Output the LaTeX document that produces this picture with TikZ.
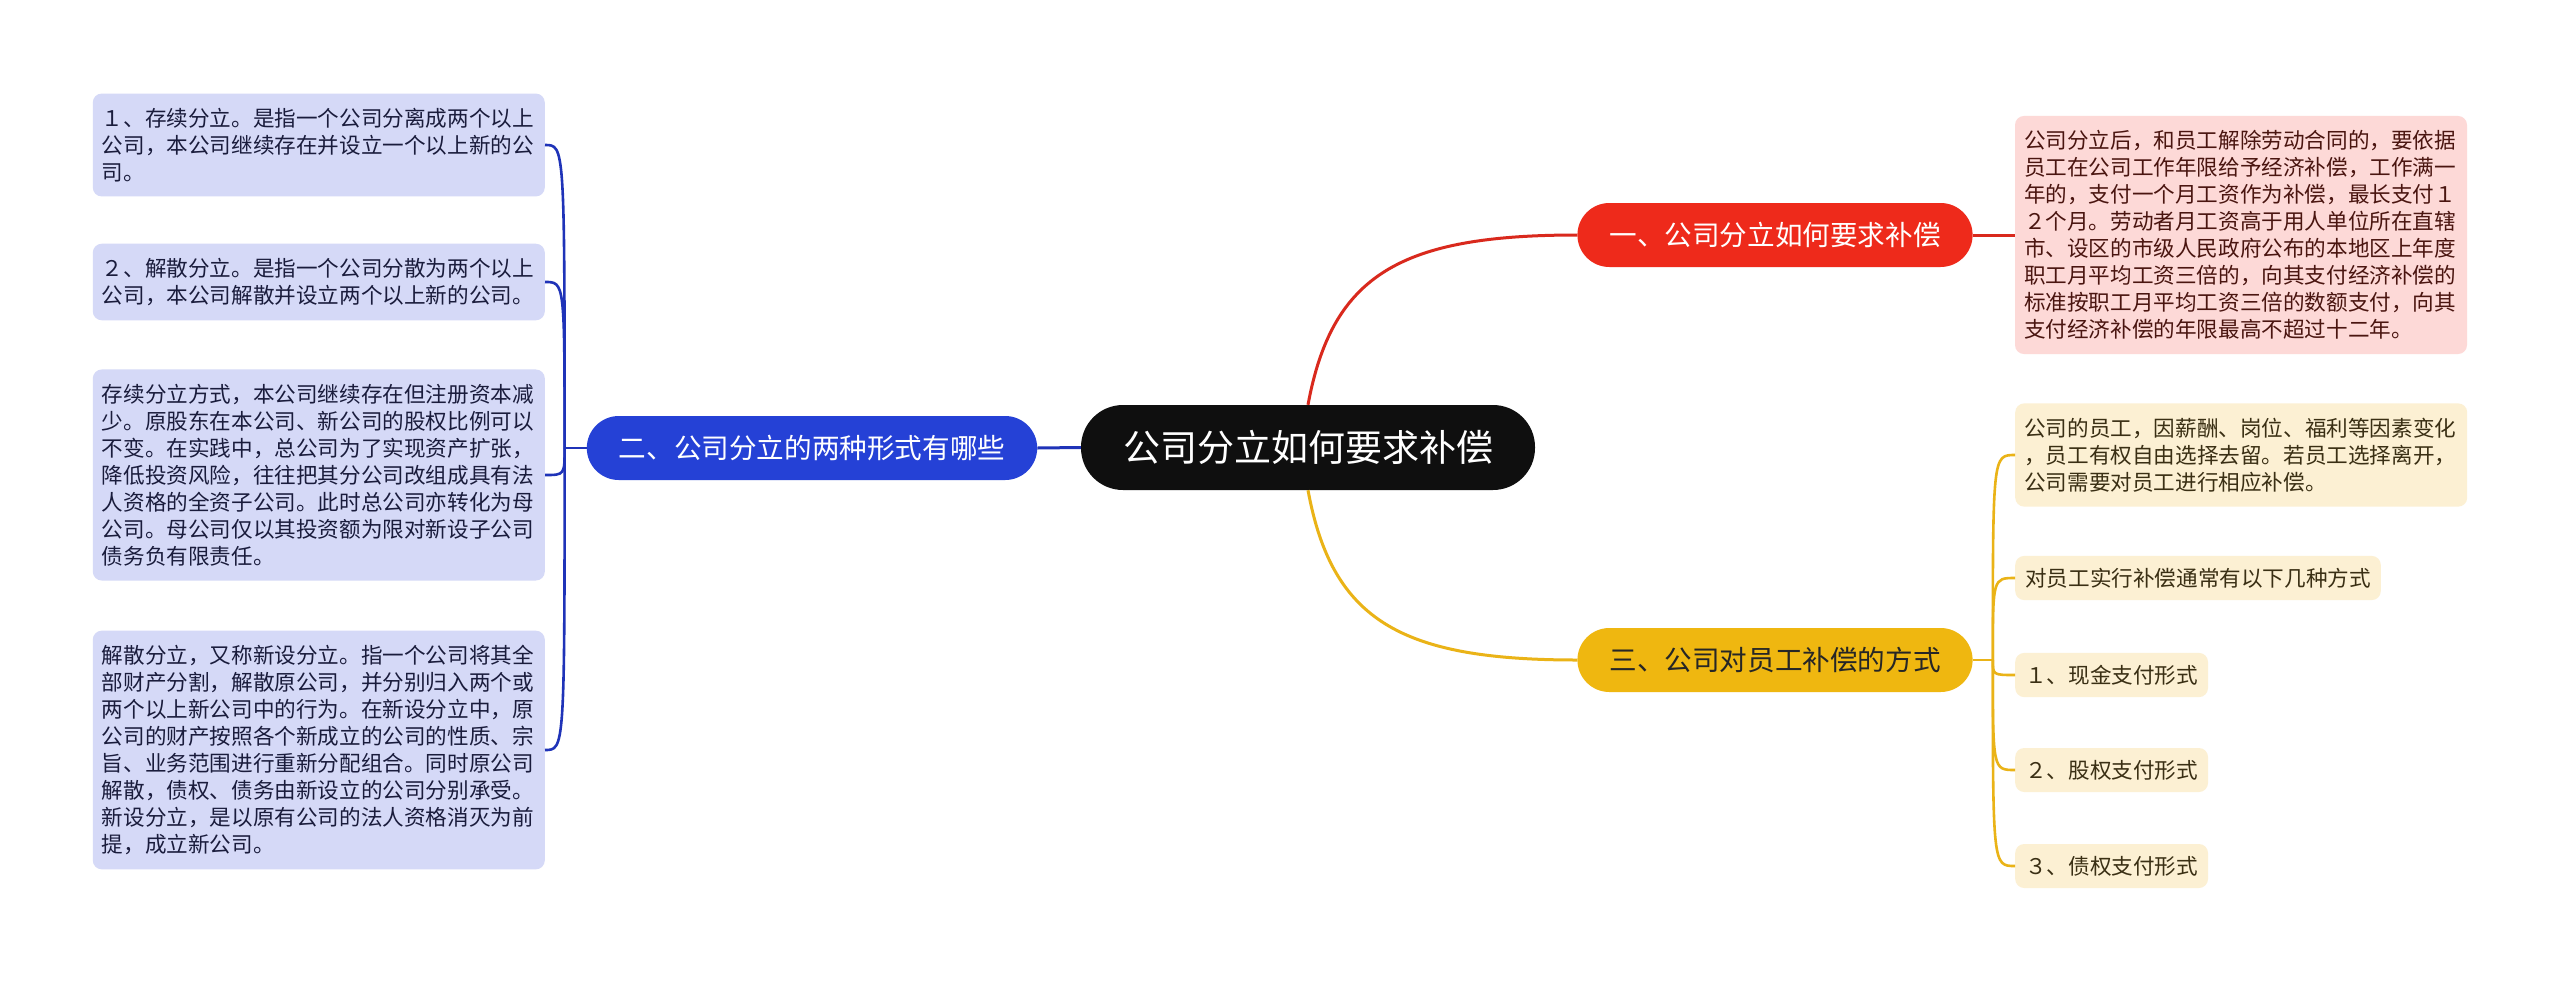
\documentclass[tikz,border=0pt]{standalone}
\usepackage{fontspec}
\setmainfont{Noto Sans CJK SC}
\usetikzlibrary{positioning}

\definecolor{rootbg}{HTML}{0F0F0F}
\definecolor{redbr}{HTML}{EE2A1B}
\definecolor{redln}{HTML}{D9291D}
\definecolor{redlf}{HTML}{FDD9D7}
\definecolor{redtx}{HTML}{4A1510}
\definecolor{bluebr}{HTML}{2541D6}
\definecolor{blueln}{HTML}{1F33B8}
\definecolor{bluelf}{HTML}{D5D9F7}
\definecolor{bluetx}{HTML}{1A1C3C}
\definecolor{yelbr}{HTML}{EFB710}
\definecolor{yelln}{HTML}{EAB317}
\definecolor{yellf}{HTML}{FCF0D3}
\definecolor{yeltx}{HTML}{3A2F14}

\begin{document}
\begin{tikzpicture}[
  x=1pt, y=-1pt,
  root/.style={fill=rootbg, text=white, rounded corners=42pt, minimum width=454pt,
               minimum height=85pt, font=\fontsize{37}{44}\selectfont},
  branch/.style={rounded corners=32pt, minimum height=64pt, inner xsep=32pt,
                 font=\fontsize{27.6}{33}\selectfont},
  leaf/.style={rounded corners=9pt, inner xsep=10pt, inner ysep=12pt,
               font=\fontsize{21.6}{27}\selectfont},
  para/.style={leaf, text width=434pt, align=left, inner xsep=9pt, inner ysep=14.5pt},
  redleaf/.style={fill=redlf, text=redtx},
  blueleaf/.style={fill=bluelf, text=bluetx},
  yelleaf/.style={fill=yellf, text=yeltx},
  rlink/.style={draw=redln, line width=3pt},
  blink/.style={draw=blueln, line width=2.6pt},
  ylink/.style={draw=yelln, line width=2.6pt},
]
\fill[white] (0,0) rectangle (2560,983);
\useasboundingbox (0,0) rectangle (2560,983);
% ---- root and branches ----
\node[root] (root) at (1308,447.5) {公司分立如何要求补偿};
\node[branch, fill=redbr, text=white] (b1) at (1775,235) {一、公司分立如何要求补偿};
\node[branch, fill=bluebr, text=white] (b2) at (812,448) {二、公司分立的两种形式有哪些};
\node[branch, fill=yelbr, text=black!85] (b3) at (1775,660) {三、公司对员工补偿的方式};
% ---- red leaf ----
\node[para, redleaf, right=42pt of b1] (r1) {公司分立后，和员工解除劳动合同的，要依据\\员工在公司工作年限给予经济补偿，工作满一\\年的，支付一个月工资作为补偿，最长支付１\\２个月。劳动者月工资高于用人单位所在直辖\\市、设区的市级人民政府公布的本地区上年度\\职工月平均工资三倍的，向其支付经济补偿的\\标准按职工月平均工资三倍的数额支付，向其\\支付经济补偿的年限最高不超过十二年。};
% ---- blue leaves ----
\node[para, blueleaf, anchor=east] (l1) at (545,145) {１、存续分立。是指一个公司分离成两个以上\\公司，本公司继续存在并设立一个以上新的公\\司。};
\node[para, blueleaf, anchor=east] (l2) at (545,282) {２、解散分立。是指一个公司分散为两个以上\\公司，本公司解散并设立两个以上新的公司。};
\node[para, blueleaf, anchor=east] (l3) at (545,475) {存续分立方式，本公司继续存在但注册资本减\\少。原股东在本公司、新公司的股权比例可以\\不变。在实践中，总公司为了实现资产扩张，\\降低投资风险，往往把其分公司改组成具有法\\人资格的全资子公司。此时总公司亦转化为母\\公司。母公司仅以其投资额为限对新设子公司\\债务负有限责任。};
\node[para, blueleaf, anchor=east] (l4) at (545,750) {解散分立，又称新设分立。指一个公司将其全\\部财产分割，解散原公司，并分别归入两个或\\两个以上新公司中的行为。在新设分立中，原\\公司的财产按照各个新成立的公司的性质、宗\\旨、业务范围进行重新分配组合。同时原公司\\解散，债权、债务由新设立的公司分别承受。\\新设分立，是以原有公司的法人资格消灭为前\\提，成立新公司。};
% ---- yellow leaves ----
\node[para, yelleaf, anchor=west] (y1) at (2015,455) {公司的员工，因薪酬、岗位、福利等因素变化\\，员工有权自由选择去留。若员工选择离开，\\公司需要对员工进行相应补偿。};
\node[leaf, yelleaf, anchor=west] (y2) at (2015,578) {对员工实行补偿通常有以下几种方式};
\node[leaf, yelleaf, anchor=west] (y3) at (2015,675) {１、现金支付形式};
\node[leaf, yelleaf, anchor=west] (y4) at (2015,770) {２、股权支付形式};
\node[leaf, yelleaf, anchor=west] (y5) at (2015,866) {３、债权支付形式};
% ---- junctions ----
\coordinate[left=22pt of b2.west] (jb);
\coordinate[right=20pt of b3.east] (jy);
% ---- links ----
\draw[rlink] (root.north) .. controls +(24,-130) and +(-177,0) .. (b1.west);
\draw[rlink] (b1.east) -- (r1.west);
\draw[ylink, line width=3pt] (root.south) .. controls +(24,130) and +(-177,0) .. (b3.west);
\draw[blink, line width=3pt] (root.west) -- (b2.east);
\draw[blink] (b2.west) -- (jb);
\foreach \n in {l1,l2,l3,l4}
  \draw[blink] (jb) .. controls (jb |- \n.east) .. (\n.east);
\draw[ylink] (b3.east) -- (jy);
\foreach \n in {y1,y2,y3,y4,y5}
  \draw[ylink] (jy) .. controls (jy |- \n.west) .. (\n.west);
\end{tikzpicture}
\end{document}
